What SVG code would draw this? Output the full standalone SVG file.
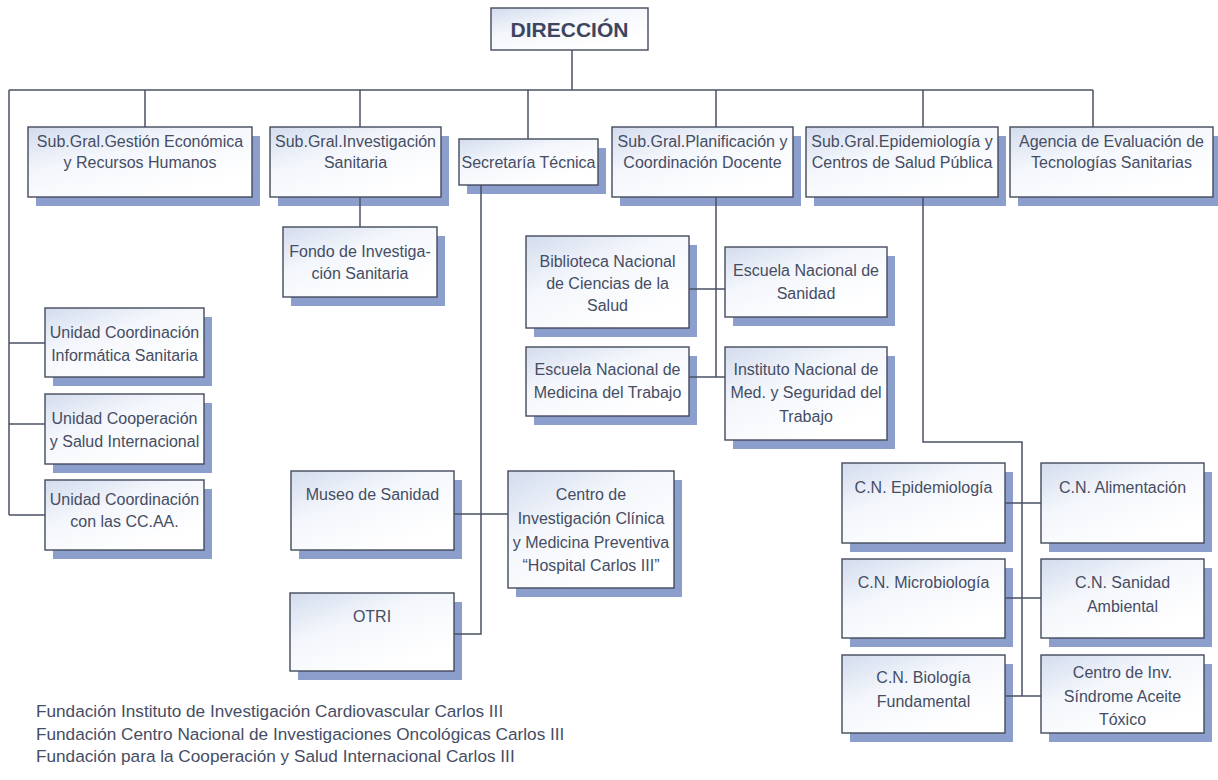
<svg xmlns="http://www.w3.org/2000/svg" width="1218" height="780" viewBox="0 0 1218 780">
<defs>
<linearGradient id="bf" x1="0" y1="0" x2="0.7" y2="0.9">
<stop offset="0" stop-color="#d3dcee"/>
<stop offset="0.45" stop-color="#f3f6fb"/>
<stop offset="1" stop-color="#ffffff"/>
</linearGradient>
<style>
.sh{fill:#8c9ecb}
.bx{fill:url(#bf);stroke:#434a5c;stroke-width:1.4}
.t{font-family:"Liberation Sans",Arial,sans-serif;font-size:16px;fill:#454d64;text-anchor:middle}
.ft{font-family:"Liberation Sans",Arial,sans-serif;font-size:17.2px;fill:#454d64}
.ttl{font-family:"Liberation Sans",Arial,sans-serif;font-size:21px;font-weight:bold;fill:#3d4560;text-anchor:middle}
.ln{fill:none;stroke:#4b5265;stroke-width:1.5}
</style>
</defs>
<rect width="1218" height="780" fill="#ffffff"/>

<g id="n-direccion">
<rect class="bx" x="491" y="8" width="157" height="42"/>
<text class="ttl" x="569.5" y="37">DIRECCIÓN</text>
</g>
<g id="n-sg1">
<rect class="sh" x="36" y="136" width="224" height="70"/>
<rect class="bx" x="28" y="127" width="224" height="70"/>
<text class="t" x="140" y="147">Sub.Gral.Gestión Económica</text>
<text class="t" x="140" y="168">y Recursos Humanos</text>
</g>
<g id="n-sg2">
<rect class="sh" x="278" y="136" width="171" height="70"/>
<rect class="bx" x="270" y="127" width="171" height="70"/>
<text class="t" x="355.5" y="147">Sub.Gral.Investigación</text>
<text class="t" x="355.5" y="168">Sanitaria</text>
</g>
<g id="n-sec">
<rect class="sh" x="467" y="148" width="139" height="46"/>
<rect class="bx" x="459" y="139" width="139" height="46"/>
<text class="t" x="528.5" y="168">Secretaría Técnica</text>
</g>
<g id="n-sg4">
<rect class="sh" x="620" y="136" width="181" height="70"/>
<rect class="bx" x="612" y="127" width="181" height="70"/>
<text class="t" x="702.5" y="147">Sub.Gral.Planificación y</text>
<text class="t" x="702.5" y="168">Coordinación Docente</text>
</g>
<g id="n-sg5">
<rect class="sh" x="814" y="136" width="192" height="70"/>
<rect class="bx" x="806" y="127" width="192" height="70"/>
<text class="t" x="902" y="147">Sub.Gral.Epidemiología y</text>
<text class="t" x="902" y="168">Centros de Salud Pública</text>
</g>
<g id="n-agencia">
<rect class="sh" x="1018" y="136" width="203" height="70"/>
<rect class="bx" x="1010" y="127" width="203" height="70"/>
<text class="t" x="1111.5" y="147">Agencia de Evaluación de</text>
<text class="t" x="1111.5" y="168">Tecnologías Sanitarias</text>
</g>
<g id="n-fondo">
<rect class="sh" x="291" y="236" width="154" height="70"/>
<rect class="bx" x="283" y="227" width="154" height="70"/>
<text class="t" x="360" y="257">Fondo de Investiga-</text>
<text class="t" x="360" y="279">ción Sanitaria</text>
</g>
<g id="n-u1">
<rect class="sh" x="53" y="317" width="159" height="69"/>
<rect class="bx" x="45" y="308" width="159" height="69"/>
<text class="t" x="124.5" y="338">Unidad Coordinación</text>
<text class="t" x="124.5" y="361">Informática Sanitaria</text>
</g>
<g id="n-u2">
<rect class="sh" x="53" y="403" width="159" height="70"/>
<rect class="bx" x="45" y="394" width="159" height="70"/>
<text class="t" x="124.5" y="424">Unidad Cooperación</text>
<text class="t" x="124.5" y="447">y Salud Internacional</text>
</g>
<g id="n-u3">
<rect class="sh" x="53" y="489" width="159" height="70"/>
<rect class="bx" x="45" y="480" width="159" height="70"/>
<text class="t" x="124.5" y="505">Unidad Coordinación</text>
<text class="t" x="124.5" y="527">con las CC.AA.</text>
</g>
<g id="n-bib">
<rect class="sh" x="534" y="245" width="163" height="92"/>
<rect class="bx" x="526" y="236" width="163" height="92"/>
<text class="t" x="607.5" y="267">Biblioteca Nacional</text>
<text class="t" x="607.5" y="289">de Ciencias de la</text>
<text class="t" x="607.5" y="311">Salud</text>
</g>
<g id="n-ens">
<rect class="sh" x="733" y="256" width="162" height="70"/>
<rect class="bx" x="725" y="247" width="162" height="70"/>
<text class="t" x="806" y="276">Escuela Nacional de</text>
<text class="t" x="806" y="299">Sanidad</text>
</g>
<g id="n-enm">
<rect class="sh" x="534" y="356" width="163" height="69"/>
<rect class="bx" x="526" y="347" width="163" height="69"/>
<text class="t" x="607.5" y="375">Escuela Nacional de</text>
<text class="t" x="607.5" y="398">Medicina del Trabajo</text>
</g>
<g id="n-ins">
<rect class="sh" x="733" y="356" width="162" height="93"/>
<rect class="bx" x="725" y="347" width="162" height="93"/>
<text class="t" x="806" y="375">Instituto Nacional de</text>
<text class="t" x="806" y="398">Med. y Seguridad del</text>
<text class="t" x="806" y="422">Trabajo</text>
</g>
<g id="n-museo">
<rect class="sh" x="299" y="480" width="163" height="79"/>
<rect class="bx" x="291" y="471" width="163" height="79"/>
<text class="t" x="372.5" y="500">Museo de Sanidad</text>
</g>
<g id="n-cic">
<rect class="sh" x="516" y="480" width="166" height="117"/>
<rect class="bx" x="508" y="471" width="166" height="117"/>
<text class="t" x="591" y="500">Centro de</text>
<text class="t" x="591" y="524">Investigación Clínica</text>
<text class="t" x="591" y="548">y Medicina Preventiva</text>
<text class="t" x="591" y="571">“Hospital Carlos III”</text>
</g>
<g id="n-otri">
<rect class="sh" x="298" y="602" width="164" height="78"/>
<rect class="bx" x="290" y="593" width="164" height="78"/>
<text class="t" x="372" y="622">OTRI</text>
</g>
<g id="n-cne">
<rect class="sh" x="850" y="472" width="163" height="80"/>
<rect class="bx" x="842" y="463" width="163" height="80"/>
<text class="t" x="923.5" y="493">C.N. Epidemiología</text>
</g>
<g id="n-cna">
<rect class="sh" x="1049" y="472" width="163" height="80"/>
<rect class="bx" x="1041" y="463" width="163" height="80"/>
<text class="t" x="1122.5" y="493">C.N. Alimentación</text>
</g>
<g id="n-cnm">
<rect class="sh" x="850" y="568" width="163" height="79"/>
<rect class="bx" x="842" y="559" width="163" height="79"/>
<text class="t" x="923.5" y="588">C.N. Microbiología</text>
</g>
<g id="n-cns">
<rect class="sh" x="1049" y="568" width="163" height="79"/>
<rect class="bx" x="1041" y="559" width="163" height="79"/>
<text class="t" x="1122.5" y="588">C.N. Sanidad</text>
<text class="t" x="1122.5" y="612">Ambiental</text>
</g>
<g id="n-cnb">
<rect class="sh" x="850" y="664" width="163" height="78"/>
<rect class="bx" x="842" y="655" width="163" height="78"/>
<text class="t" x="923.5" y="683">C.N. Biología</text>
<text class="t" x="923.5" y="707">Fundamental</text>
</g>
<g id="n-cis">
<rect class="sh" x="1049" y="664" width="163" height="78"/>
<rect class="bx" x="1041" y="655" width="163" height="78"/>
<text class="t" x="1122.5" y="678">Centro de Inv.</text>
<text class="t" x="1122.5" y="702">Síndrome Aceite</text>
<text class="t" x="1122.5" y="725">Tóxico</text>
</g>

<g id="connectors">
<path class="ln" d="M572,50 V90"/>
<path class="ln" d="M9,90 H1093"/>
<path class="ln" d="M145,90 V127 M360,90 V127 M528,90 V139 M716,90 V127 M923,90 V127 M1093,90 V127"/>
<path class="ln" d="M9,90 V515 M9,343 H45 M9,424 H45 M9,515 H45"/>
<path class="ln" d="M360,197 V227"/>
<path class="ln" d="M481,185 V634 H454 M454,514 H508"/>
<path class="ln" d="M716,197 V377 M689,289 H725 M689,377 H725"/>
<path class="ln" d="M923,197 V442 H1022 V696 M1005,503 H1041 M1005,598 H1041 M1005,696 H1041"/>
</g>

<g id="footnote">
<text class="ft" x="36" y="717">Fundación Instituto de Investigación Cardiovascular Carlos III</text>
<text class="ft" x="36" y="740">Fundación Centro Nacional de Investigaciones Oncológicas Carlos III</text>
<text class="ft" x="36" y="762">Fundación para la Cooperación y Salud Internacional Carlos III</text>
</g>
</svg>
